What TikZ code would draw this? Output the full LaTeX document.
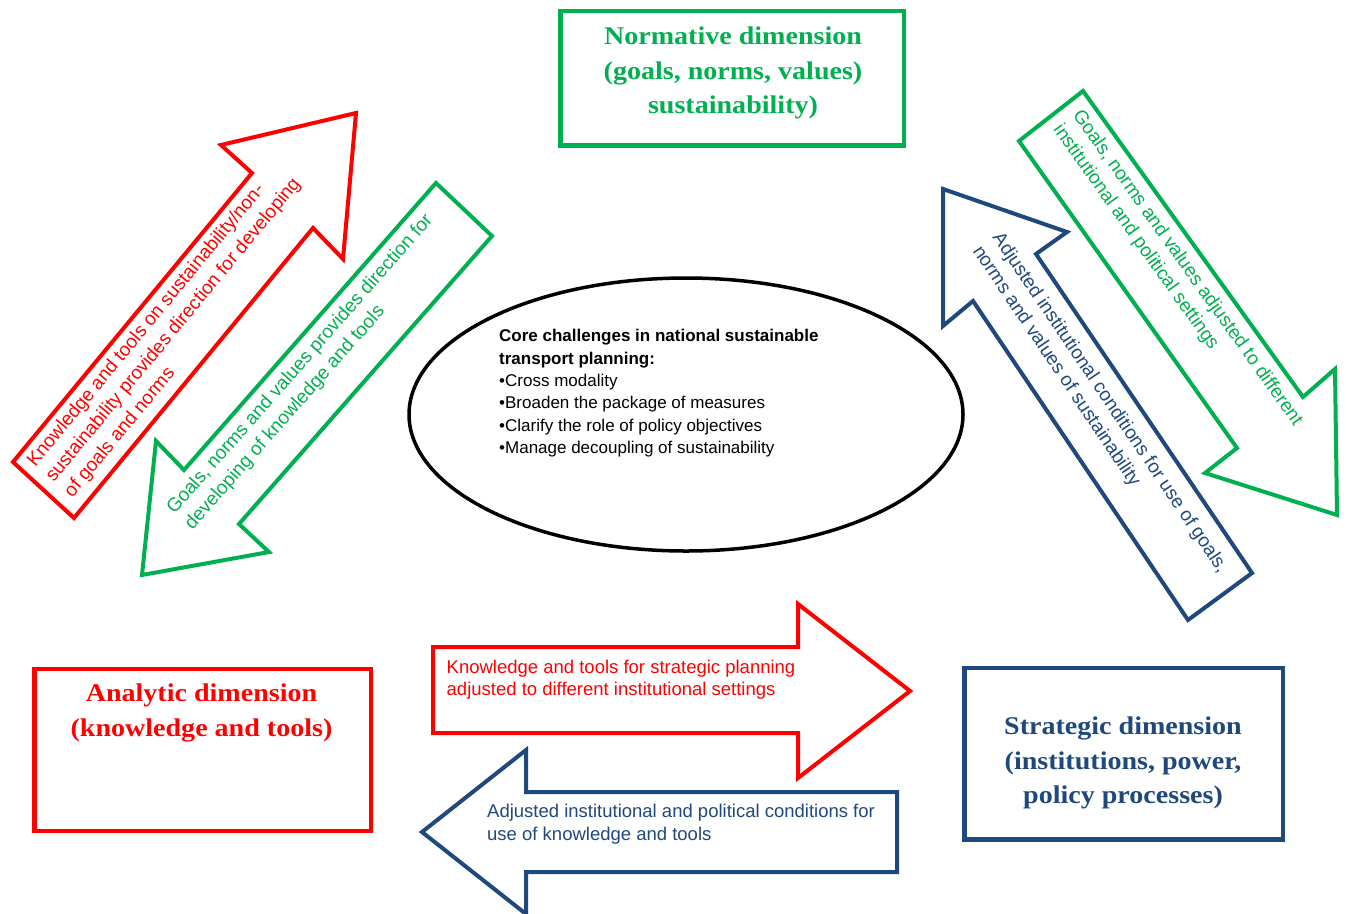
\documentclass[tikz,border=0pt]{standalone}
\usepackage{fontspec}
\setmainfont{Liberation Serif}
\newfontfamily\arialf{Liberation Sans}
\newfontfamily\titlefont[FakeStretch=1.1]{Liberation Serif}
\usetikzlibrary{shapes.geometric}
\definecolor{cred}{RGB}{255,0,0}
\definecolor{cgreen}{RGB}{0,176,80}
\definecolor{cblue}{RGB}{31,73,125}
\tikzset{
  arrowshape/.style={line width=4pt, line join=miter, miter limit=10},
  dimbox/.style={draw, line width=4.5pt, inner sep=0pt},
  dimtitle/.style={font=\titlefont\bfseries\fontsize{25.5}{34.5}\selectfont, align=center, inner sep=0pt},
  diagtext/.style={font=\arialf\fontsize{19}{24}\selectfont, align=left, inner sep=0pt, anchor=west},
  flattext/.style={font=\arialf\fontsize{18.5}{22.7}\selectfont, align=left, inner sep=0pt, anchor=west},
  coretext/.style={font=\arialf\fontsize{17}{22.3}\selectfont, align=left, inner sep=0pt, anchor=west},
}
\begin{document}
\begin{tikzpicture}[x=1pt,y=-1pt]
\path[use as bounding box, fill=white] (0,0) rectangle (1346,913);

% dimension boxes
\node[dimbox, draw=cgreen, minimum width=343.5pt, minimum height=134.5pt] (normbox) at (732.3,78.3) {};
\node[dimtitle, text=cgreen] (normtext) at (733,73) {Normative dimension\\(goals, norms, values)\\sustainability)};

\node[dimbox, draw=cred, minimum width=336.5pt, minimum height=162pt] (anabox) at (202.75,750) {};
\node[dimtitle, text=cred] (anatext) at (201.5,713) {Analytic dimension\\(knowledge and tools)};

\node[dimbox, draw=cblue, minimum width=318.5pt, minimum height=171.7pt] (stratbox) at (1123.75,753.85) {};
\node[dimtitle, text=cblue] (strattext) at (1123,763) {Strategic dimension\\(institutions, power,\\policy processes)};

% core ellipse
\node[draw, ellipse, line width=3.5pt, minimum width=554pt, minimum height=273pt, inner sep=0pt] (core) at (686,414.5) {};
\node[coretext] (coretxt) at (499,393.2) {\textbf{Core challenges in national sustainable}\\\textbf{transport planning:}\\•Cross modality\\•Broaden the package of measures\\•Clarify the role of policy objectives\\•Manage decoupling of sustainability};

% red diagonal arrow (analytic -> normative)
\draw[arrowshape, draw=cred] (356,113) -- (343,259) -- (313,228) -- (74,518) -- (13,462) -- (252,173) -- (221,145) -- cycle;
\node[diagtext, text=cred, rotate=50.4] (redtxt) at (50,479.8) {Knowledge and tools on sustainability/non-\\sustainability provides direction for developing\\of goals and norms};

% green diagonal arrow (normative -> analytic)
\draw[arrowshape, draw=cgreen] (142,575) -- (156,441) -- (184,470) -- (436,183) -- (492,236) -- (239,524) -- (269,552) -- cycle;
\node[diagtext, text=cgreen, rotate=48.7] (greentxt) at (179.9,519.8) {Goals, norms and values provides direction for\\developing of knowledge and tools};

% green diagonal arrow (normative -> strategic)
\draw[arrowshape, draw=cgreen] (1083,91) -- (1303,397) -- (1335,369) -- (1337,515) -- (1205,473) -- (1237,448) -- (1019,141) -- cycle;
\node[diagtext, text=cgreen, rotate=-54.5] (green2txt) at (1066.5,119.7) {Goals, norms and values adjusted to different\\institutional and political settings};

% blue diagonal arrow (strategic -> normative)
\draw[arrowshape, draw=cblue] (943,189) -- (1067,232) -- (1036,254) -- (1252,573) -- (1188,620) -- (973,301) -- (943,326) -- cycle;
\node[diagtext, text=cblue, rotate=-56] (bluetxt) at (986.2,241.6) {Adjusted institutional conditions for use of goals,\\norms and values of sustainability};

% red horizontal arrow (analytic -> strategic)
\draw[arrowshape, draw=cred] (433,647) -- (798,647) -- (798,604) -- (910,691) -- (798,778) -- (798,733) -- (433,733) -- cycle;
\node[flattext, text=cred] (red2txt) at (446.5,679.6) {Knowledge and tools for strategic planning\\adjusted to different institutional settings};

% blue horizontal arrow (strategic -> analytic)
\draw[arrowshape, draw=cblue] (422,832) -- (526,750) -- (526,792) -- (897,792) -- (897,872) -- (526,872) -- (526,914) -- cycle;
\node[flattext, text=cblue] (blue2txt) at (487,824) {Adjusted institutional and political conditions for\\use of knowledge and tools};
\end{tikzpicture}
\end{document}
